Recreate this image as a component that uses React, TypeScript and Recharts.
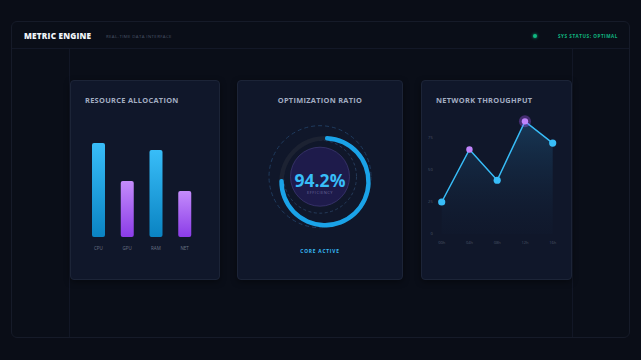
import React from 'react';
import {
  BarChart, Bar, XAxis, YAxis, Cell, PieChart, Pie, ComposedChart, Area,
} from 'recharts';

const resourceCategories = ['CPU', 'GPU', 'RAM', 'NET'];
const resourceValues = [94, 56, 87, 46];

const gaugeValue = 94.2;
const gaugeArcShown = 76; // share of the ring drawn as filled in the picture

const throughputLabels = ['00h', '04h', '08h', '12h', '16h'];
const throughputValues = [25, 66, 42, 88, 71];
const throughputTicks = [0, 25, 50, 75];

const resourceData = resourceCategories.map((c, i) => ({ name: c, value: resourceValues[i] }));
const throughputData = throughputLabels.map((t, i) => ({ name: t, value: throughputValues[i] }));
const gaugeData = [
  { name: 'filled', value: gaugeArcShown },
  { name: 'rest', value: 100 - gaugeArcShown },
];

const FONT = '"Open Sans", "DejaVu Sans", sans-serif';
const panelStyle: React.CSSProperties = {
  position: 'absolute',
  top: 80,
  height: 200,
  background: '#10172a',
  border: '1px solid #1c2437',
  borderRadius: 4,
  boxSizing: 'border-box',
  boxShadow: '0 2px 6px rgba(0,0,0,0.4)',
};
const titleStyle: React.CSSProperties = {
  position: 'absolute',
  top: 14,
  fontFamily: FONT,
  fontWeight: 700,
  fontSize: 7.4,
  letterSpacing: 0.3,
  color: '#a3adc2',
  whiteSpace: 'nowrap',
};

const ThroughputDot = (props: any) => {
  const { cx, cy, index } = props;
  if (cx == null || cy == null) return null;
  const purple = index === 1 || index === 3;
  return (
    <g key={`d${index}`}>
      {index === 3 && <circle cx={cx} cy={cy} r={6} fill="#a855f7" fillOpacity={0.35} />}
      <circle cx={cx} cy={cy} r={purple ? 3.2 : 3.6} fill={purple ? '#c084fc' : '#38bdf8'} />
    </g>
  );
};

export default function App() {
  return (
    <div style={{ position: 'fixed', left: 0, top: 0, width: 641, height: 360, background: '#0a0d17', overflow: 'hidden', fontFamily: FONT }}>
      {/* outer frame */}
      <div style={{ position: 'absolute', left: 11, top: 21, width: 619, height: 317, border: '1px solid #161b29', borderRadius: 6, boxSizing: 'border-box', background: '#0a0e18' }} />
      <div style={{ position: 'absolute', left: 12, top: 48, width: 617, height: 1, background: '#131827' }} />
      <div style={{ position: 'absolute', left: 69, top: 49, width: 1, height: 288, background: '#121726' }} />
      <div style={{ position: 'absolute', left: 572, top: 49, width: 1, height: 288, background: '#121726' }} />

      {/* header */}
      <div style={{ position: 'absolute', left: 24, top: 30, fontWeight: 800, fontSize: 8.2, letterSpacing: 0.2, color: '#f1f5f9', whiteSpace: 'nowrap', lineHeight: '12px' }}>METRIC ENGINE</div>
      <div style={{ position: 'absolute', left: 106, top: 33, fontSize: 4.3, letterSpacing: 0.4, color: '#4b5568', whiteSpace: 'nowrap', lineHeight: '6px' }}>REAL-TIME DATA INTERFACE</div>
      <div style={{ position: 'absolute', left: 533, top: 34, width: 4, height: 4, borderRadius: 2, background: '#10b981', boxShadow: '0 0 3px #10b981' }} />
      <div style={{ position: 'absolute', left: 558, top: 33, fontSize: 4.6, fontWeight: 700, letterSpacing: 0.55, color: '#10b981', whiteSpace: 'nowrap', lineHeight: '6px' }}>SYS STATUS: OPTIMAL</div>

      {/* panel 1: resource allocation */}
      <div style={{ ...panelStyle, left: 70, width: 150 }}>
        <div style={{ ...titleStyle, left: 14 }}>RESOURCE ALLOCATION</div>
        <div style={{ position: 'absolute', left: -1, top: -1 }}>
          <BarChart width={150} height={200} data={resourceData} margin={{ top: 57, right: 21, bottom: 23, left: 14 }}>
            <defs>
              <linearGradient id="gBlue" x1="0" y1="0" x2="0" y2="1">
                <stop offset="0%" stopColor="#38bdf8" />
                <stop offset="100%" stopColor="#0a83c2" />
              </linearGradient>
              <linearGradient id="gPurple" x1="0" y1="0" x2="0" y2="1">
                <stop offset="0%" stopColor="#c48cfb" />
                <stop offset="100%" stopColor="#8b3ce8" />
              </linearGradient>
            </defs>
            <XAxis dataKey="name" axisLine={false} tickLine={false} height={20} tickSize={0} tickMargin={10}
              tick={{ fill: '#6b7488', fontSize: 4.5, fontFamily: FONT }} interval={0} />
            <YAxis hide domain={[0, 100]} />
            <Bar dataKey="value" barSize={13} radius={[2, 2, 2, 2]} isAnimationActive={false}>
              {resourceData.map((d, i) => (
                <Cell key={d.name} fill={i % 2 === 0 ? 'url(#gBlue)' : 'url(#gPurple)'} />
              ))}
            </Bar>
          </BarChart>
        </div>
      </div>

      {/* panel 2: optimization ratio */}
      <div style={{ ...panelStyle, left: 237, width: 166 }}>
        <div style={{ ...titleStyle, left: 0, width: 164, textAlign: 'center' }}>OPTIMIZATION RATIO</div>
        <svg style={{ position: 'absolute', left: -1, top: -1 }} width={166} height={200}>
          <circle cx={83} cy={96.7} r={51} fill="none" stroke="#1f3b5e" strokeWidth={1} strokeDasharray="4 3" />
          <circle cx={83} cy={96.7} r={36.5} fill="none" stroke="#2b4466" strokeWidth={0.8} strokeDasharray="3 2.5" />
          <circle cx={83} cy={96.7} r={29.5} fill="#1e1b4b" stroke="#3b3670" strokeWidth={0.8} />
        </svg>
        <div style={{ position: 'absolute', left: -1, top: -1 }}>
          <PieChart width={166} height={200}>
            <Pie data={[{ v: 1 }]} dataKey="v" cx={83} cy={96.7} innerRadius={41.3} outerRadius={45.7}
              startAngle={90} endAngle={-270} fill="#1c2232" stroke="none" isAnimationActive={false} />
            <Pie data={gaugeData} dataKey="value" cx={83} cy={96.7} innerRadius={41.3} outerRadius={45.7}
              startAngle={90} endAngle={-270} stroke="none" cornerRadius={2} isAnimationActive={false}>
              <Cell fill="#1aa3e8" />
              <Cell fill="transparent" />
            </Pie>
          </PieChart>
        </div>
        <div style={{ position: 'absolute', left: 0, width: 164, top: 88.5, textAlign: 'center', fontWeight: 700, fontSize: 17.5, color: '#38bdf8', lineHeight: '20px' }}>{gaugeValue}%</div>
        <div style={{ position: 'absolute', left: 0, width: 164, top: 109, textAlign: 'center', fontSize: 4, letterSpacing: 0.5, color: '#6d6a9c', lineHeight: '5px' }}>EFFICIENCY</div>
        <div style={{ position: 'absolute', left: 0, width: 164, top: 167, textAlign: 'center', fontWeight: 700, fontSize: 4.8, letterSpacing: 0.8, color: '#38bdf8', lineHeight: '6px' }}>CORE ACTIVE</div>
      </div>

      {/* panel 3: network throughput */}
      <div style={{ ...panelStyle, left: 421, width: 151 }}>
        <div style={{ ...titleStyle, left: 14 }}>NETWORK THROUGHPUT</div>
        <div style={{ position: 'absolute', left: -1, top: -1 }}>
          <ComposedChart width={151} height={200} data={throughputData} margin={{ top: 26, right: 19.3, bottom: 30, left: 0 }}>
            <defs>
              <linearGradient id="gArea" x1="0" y1="0" x2="0" y2="1">
                <stop offset="0%" stopColor="#1f5a85" stopOpacity={0.8} />
                <stop offset="100%" stopColor="#13253f" stopOpacity={0.15} />
              </linearGradient>
            </defs>
            <XAxis dataKey="name" axisLine={false} tickLine={false} height={16} tickSize={0} tickMargin={7}
              tick={{ fill: '#4b5568', fontSize: 4, fontFamily: FONT }} interval={0} />
            <YAxis domain={[0, 100]} ticks={throughputTicks} axisLine={false} tickLine={false} width={20.7}
              tickSize={0} tickMargin={9} tick={{ fill: '#4b5568', fontSize: 4, fontFamily: FONT }} />
            <Area type="linear" dataKey="value" stroke="#38bdf8" strokeWidth={1.5} fill="url(#gArea)"
              dot={ThroughputDot} activeDot={false} isAnimationActive={false} />
          </ComposedChart>
        </div>
      </div>
    </div>
  );
}
